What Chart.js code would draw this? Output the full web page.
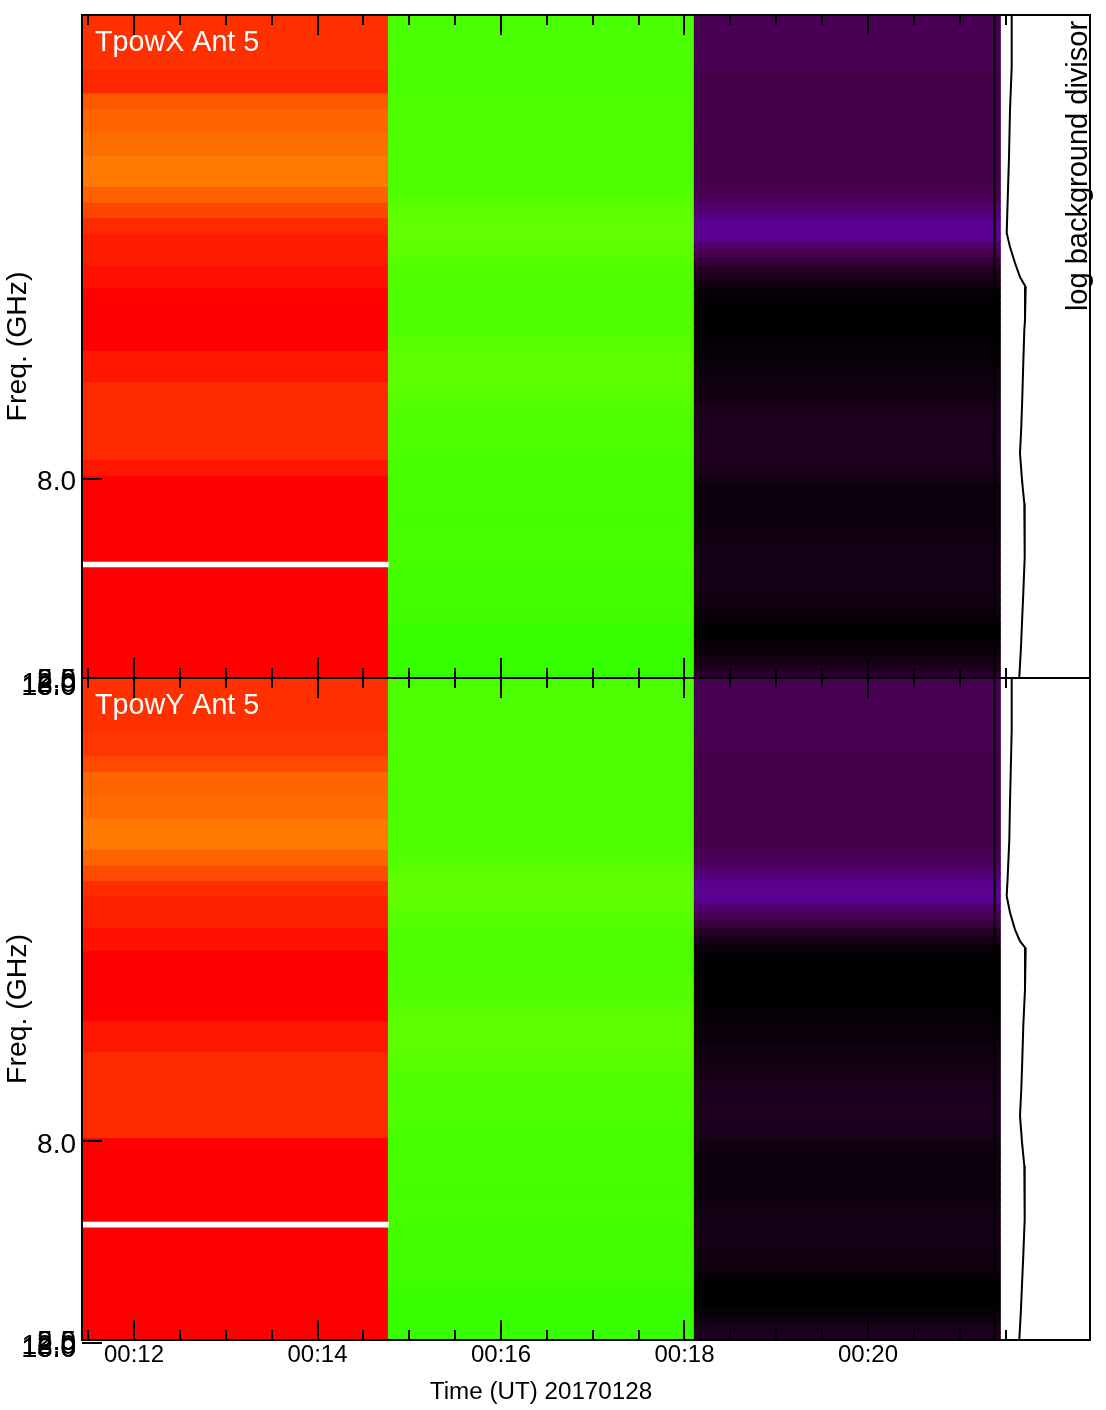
<!DOCTYPE html>
<html>
<head>
<meta charset="utf-8">
<title>TpowX / TpowY Ant 5</title>
<script src="https://cdn.jsdelivr.net/npm/chart.js@4/dist/chart.umd.min.js"></script>
<style>
  html, body { margin: 0; padding: 0; background: #fff; }
  #page { position: relative; width: 1106px; height: 1410px; overflow: hidden; }
  canvas { position: absolute; left: 0; }
  #panel-x { top: 0; }
  #panel-y { top: 640px; }
</style>
</head>
<body>
<div id="page">
  <canvas id="panel-x" width="1106" height="710"></canvas>
  <canvas id="panel-y" width="1106" height="770"></canvas>
</div>
<script>
// time columns, in minutes after 00:00 UT
const columnTimes = [13.105, 16.441, 19.775];
const darkLineTime = 21.38;
const majorTimes = [12, 14, 16, 18, 20];
const minorTimes = [11.5, 12.5, 13, 13.5, 14.5, 15, 15.5, 16.5, 17, 17.5, 18.5, 19, 19.5, 20.5, 21, 21.5];

// frequency axis, in row numbers counted from the top of the panel
const rowCount = 85;
const freqLabels = ['8.0', '2.5', '5.0', '12.0', '16.0', '18.0'];
const freqLabelRows = [59.95, 85.35, 85.35, 85.8, 86.2, 86.2];
const freqTickRows = [0, 59.49, 85.38];

// colour index of each row, top row first
const col1X = [
  235,235,235,235,235,235,235,238,238,238,
  224,224,221,221,221,218,218,218,215,215,
  215,215,222,222,229,229,237,237,241,241,
  241,241,245,245,245,250,250,250,250,250,
  250,250,250,243,243,243,243,237,237,237,
  237,237,237,237,237,237,237,243,243,250,
  250,250,250,250,250,250,250,250,250,250,
  250,250,250,250,250,250,250,250,250,250,
  250,250,250,250,250
];
const col2X = [
  149,149,149,149,149,149,149,149,149,149,
  149,150,150,150,150,150,150,150,150,150,
  150,150,151,153,155,157,158,158,158,158,
  156,154,152,151,151,151,151,151,151,151,
  151,154,155,156,156,156,156,156,155,154,
  152,150,150,150,150,150,149,147,147,147,
  147,147,147,147,147,147,147,147,147,147,
  147,146,146,146,146,146,146,145,143,141,
  141,141,141,141,141
];
const col3X = [
  21,21,21,21,21,21,21,19,19,19,
  19,19,19,19,19,19,19,19,19,19,
  19,19,21,23,26,28,30,31,30,26,
  20,15,11,8,5,2,1,1,1,1,
  1,1,2,2,3,4,5,5,6,7,
  9,9,9,10,10,10,10,9,8,6,
  4,4,4,4,4,4,5,6,7,7,
  7,7,7,7,6,6,4,2,0,0,
  2,4,6,9,13
];
const col1Y = [
  235,235,235,235,235,235,235,233,233,233,
  228,228,221,221,221,219,219,219,215,215,
  215,215,221,221,228,228,236,236,240,240,
  240,240,245,245,245,250,250,250,250,250,
  250,250,250,250,243,243,243,243,237,237,
  237,237,237,237,237,237,237,237,237,250,
  250,250,250,250,250,250,250,250,250,250,
  250,250,250,250,250,250,250,250,250,250,
  250,250,250,250,250
];
const col2Y = [
  150,150,150,150,150,150,150,150,150,150,
  150,150,150,150,150,150,150,150,150,150,
  150,150,151,153,155,157,158,158,158,156,
  154,153,152,150,150,150,150,150,152,152,
  152,152,155,156,156,156,156,156,155,154,
  152,151,151,151,151,151,150,149,147,147,
  147,147,147,147,147,147,147,147,147,147,
  146,146,146,146,146,146,146,145,143,141,
  141,141,141,141,141
];
const col3Y = [
  20,20,20,20,20,20,20,20,20,19,
  19,19,19,19,19,19,19,19,19,19,
  19,19,21,23,26,28,30,31,30,26,
  21,16,12,8,4,1,1,1,1,1,
  1,1,1,2,3,3,3,5,5,7,
  7,8,8,8,9,9,9,9,8,6,
  5,4,4,4,4,4,4,5,7,7,
  7,7,7,5,5,5,3,1,0,0,
  1,3,5,8,10
];

// rows with no data in the first column
const gapX = [70.13, 70.77];
const gapY = [69.87, 70.51];

// log background divisor against row number
const divRowsX = [0.13, 6.67, 12.18, 18.2, 23.7, 27.95, 29.74, 31.8, 33.6, 34.87, 39.1, 40.4, 44.6, 49, 52.8, 56.2, 59.6, 62.6, 69.5, 74.1, 77.9, 81, 84.9];
const divValuesX = [1.17, 1.17, 1.0, 0.9, 0.77, 0.67, 1.0, 1.5, 2.0, 2.57, 2.5, 2.43, 2.33, 2.23, 2.13, 2.0, 2.2, 2.43, 2.47, 2.33, 2.2, 2.1, 1.93];
const divRowsY = [0, 6.67, 16, 20.8, 25.5, 28, 30.1, 32.3, 33.8, 34.7, 40, 44.6, 49, 52.8, 56.2, 59.6, 62.6, 69.5, 74.1, 77.9, 81, 85];
const divValuesY = [1.17, 1.17, 1.0, 0.93, 0.77, 0.67, 1.0, 1.5, 2.0, 2.57, 2.5, 2.33, 2.23, 2.13, 2.0, 2.2, 2.43, 2.47, 2.33, 2.2, 2.1, 1.93];

// rainbow colour table: [index, r, g, b]
const colorStops = [
  [0, 0, 0, 0], [10, 32, 0, 32], [20, 72, 0, 80], [25, 76, 0, 98], [30, 90, 0, 144],
  [140, 51, 255, 0], [150, 76, 255, 0], [160, 102, 255, 0],
  [215, 255, 122, 0], [235, 255, 48, 0], [250, 255, 0, 0], [255, 255, 255, 255]
];

const fontName = '"Liberation Sans", Helvetica, Arial, sans-serif';

function colorFor(v) {
  let i = 0;
  while (i < colorStops.length - 2 && v > colorStops[i + 1][0]) i++;
  const a = colorStops[i], b = colorStops[i + 1];
  const t = (v - a[0]) / (b[0] - a[0]);
  const mix = k => Math.round(a[k] + (b[k] - a[k]) * t);
  return `rgb(${mix(1)},${mix(2)},${mix(3)})`;
}

function buildDatasets(cols, gap, divRows, divValues) {
  const datasets = [];
  datasets.push({
    type: 'line', xAxisID: 'xDiv', order: 0,
    data: divRows.map((r, i) => ({ x: divValues[i], y: r })),
    borderColor: '#000', borderWidth: 2, pointRadius: 0, tension: 0
  });
  datasets.push({
    type: 'line', order: 0,
    data: [{ x: darkLineTime, y: 0 }, { x: darkLineTime, y: rowCount }],
    borderColor: '#000', borderWidth: 2, pointRadius: 0
  });
  datasets.push({
    type: 'bar', order: 1,
    data: [{ x: columnTimes[0], y: gap }],
    backgroundColor: '#fff', barThickness: 306, grouped: false
  });
  for (let row = 0; row < rowCount; row++) {
    datasets.push({
      type: 'bar', order: 2,
      data: columnTimes.map(t => ({ x: t, y: [row, row + 1] })),
      backgroundColor: cols.map(c => colorFor(c[row])),
      barThickness: 306, grouped: false, inflateAmount: 0.5
    });
  }
  return datasets;
}

function panelPlugin(panelLabel, showDivisorLabel, showTimeTitle) {
  return {
    id: 'panelMarks',
    afterDatasetsDraw(chart) {
      const { ctx, chartArea: area, scales } = chart;
      ctx.save();
      ctx.strokeStyle = '#000';
      ctx.lineWidth = 2;
      ctx.strokeRect(area.left, area.top, area.right - area.left, area.bottom - area.top);

      const xTick = (t, len) => {
        const px = Math.round(scales.x.getPixelForValue(t));
        ctx.beginPath();
        ctx.moveTo(px, area.top); ctx.lineTo(px, area.top + len);
        ctx.moveTo(px, area.bottom); ctx.lineTo(px, area.bottom - len);
        ctx.stroke();
      };
      majorTimes.forEach(t => xTick(t, 20));
      minorTimes.forEach(t => xTick(t, 10));
      freqTickRows.forEach(r => {
        const py = Math.round(scales.y.getPixelForValue(r));
        ctx.beginPath();
        ctx.moveTo(area.left, py); ctx.lineTo(area.left + 20, py);
        ctx.stroke();
      });

      ctx.font = `28.7px ${fontName}`;
      ctx.textBaseline = 'middle';
      ctx.fillStyle = '#fff';
      ctx.textAlign = 'left';
      ctx.fillText(panelLabel, area.left + 13, area.top + 28);

      if (showDivisorLabel) {
        ctx.save();
        ctx.font = `29px ${fontName}`;
        ctx.translate(area.right - 11, area.top + 151);
        ctx.rotate(-Math.PI / 2);
        ctx.fillStyle = '#000';
        ctx.textAlign = 'center';
        ctx.fillText('log background divisor', 0, 0);
        ctx.restore();
      }
      if (showTimeTitle) {
        ctx.font = `24.2px ${fontName}`;
        ctx.fillStyle = '#000';
        ctx.textAlign = 'center';
        ctx.fillText('Time (UT) 20170128', 541, area.bottom + 52);
      }
      ctx.restore();
    }
  };
}

function makePanel(canvasId, opts) {
  return new Chart(document.getElementById(canvasId), {
    type: 'bar',
    data: { datasets: buildDatasets(opts.cols, opts.gap, opts.divRows, opts.divValues) },
    options: {
      responsive: false,
      animation: false,
      events: [],
      layout: { autoPadding: false, padding: { top: opts.top, right: 16, left: 0, bottom: 0 } },
      plugins: { legend: { display: false }, tooltip: { enabled: false } },
      scales: {
        x: {
          type: 'linear', min: 11.433, max: 22.42, offset: false,
          grid: { display: false, drawTicks: false },
          border: { display: false },
          afterBuildTicks: scale => { scale.ticks = majorTimes.map(value => ({ value })); },
          afterFit: scale => { scale.height = opts.xHeight; scale.paddingLeft = 0; scale.paddingRight = 0; },
          ticks: {
            display: opts.showTimeLabels,
            autoSkip: false, maxRotation: 0, padding: 1, color: '#000',
            font: { family: fontName, size: 24 },
            callback: value => '00:' + value
          }
        },
        xDiv: { type: 'linear', display: false, min: -91.8, max: 9.0, offset: false },
        y: {
          type: 'linear', min: 0, max: rowCount, reverse: true,
          grid: { display: false, drawTicks: false },
          border: { display: false },
          title: {
            display: true, text: 'Freq. (GHz)', color: '#000', padding: 1,
            font: { family: fontName, size: 28.4 }
          },
          afterBuildTicks: scale => { scale.ticks = freqLabelRows.map(value => ({ value })); },
          afterFit: scale => { scale.width = 82; scale.paddingTop = 0; scale.paddingBottom = 0; },
          ticks: {
            autoSkip: false, padding: 6, color: '#000',
            font: { family: fontName, size: 28 },
            callback: (value, index) => freqLabels[index]
          }
        }
      }
    },
    plugins: [panelPlugin(opts.label, opts.divisorLabel, opts.timeTitle)]
  });
}

makePanel('panel-x', {
  cols: [col1X, col2X, col3X], gap: gapX, divRows: divRowsX, divValues: divValuesX,
  label: 'TpowX Ant 5', divisorLabel: true, timeTitle: false, showTimeLabels: false,
  top: 15, xHeight: 32
});
makePanel('panel-y', {
  cols: [col1Y, col2Y, col3Y], gap: gapY, divRows: divRowsY, divValues: divValuesY,
  label: 'TpowY Ant 5', divisorLabel: false, timeTitle: true, showTimeLabels: true,
  top: 38, xHeight: 70
});
</script>
</body>
</html>
